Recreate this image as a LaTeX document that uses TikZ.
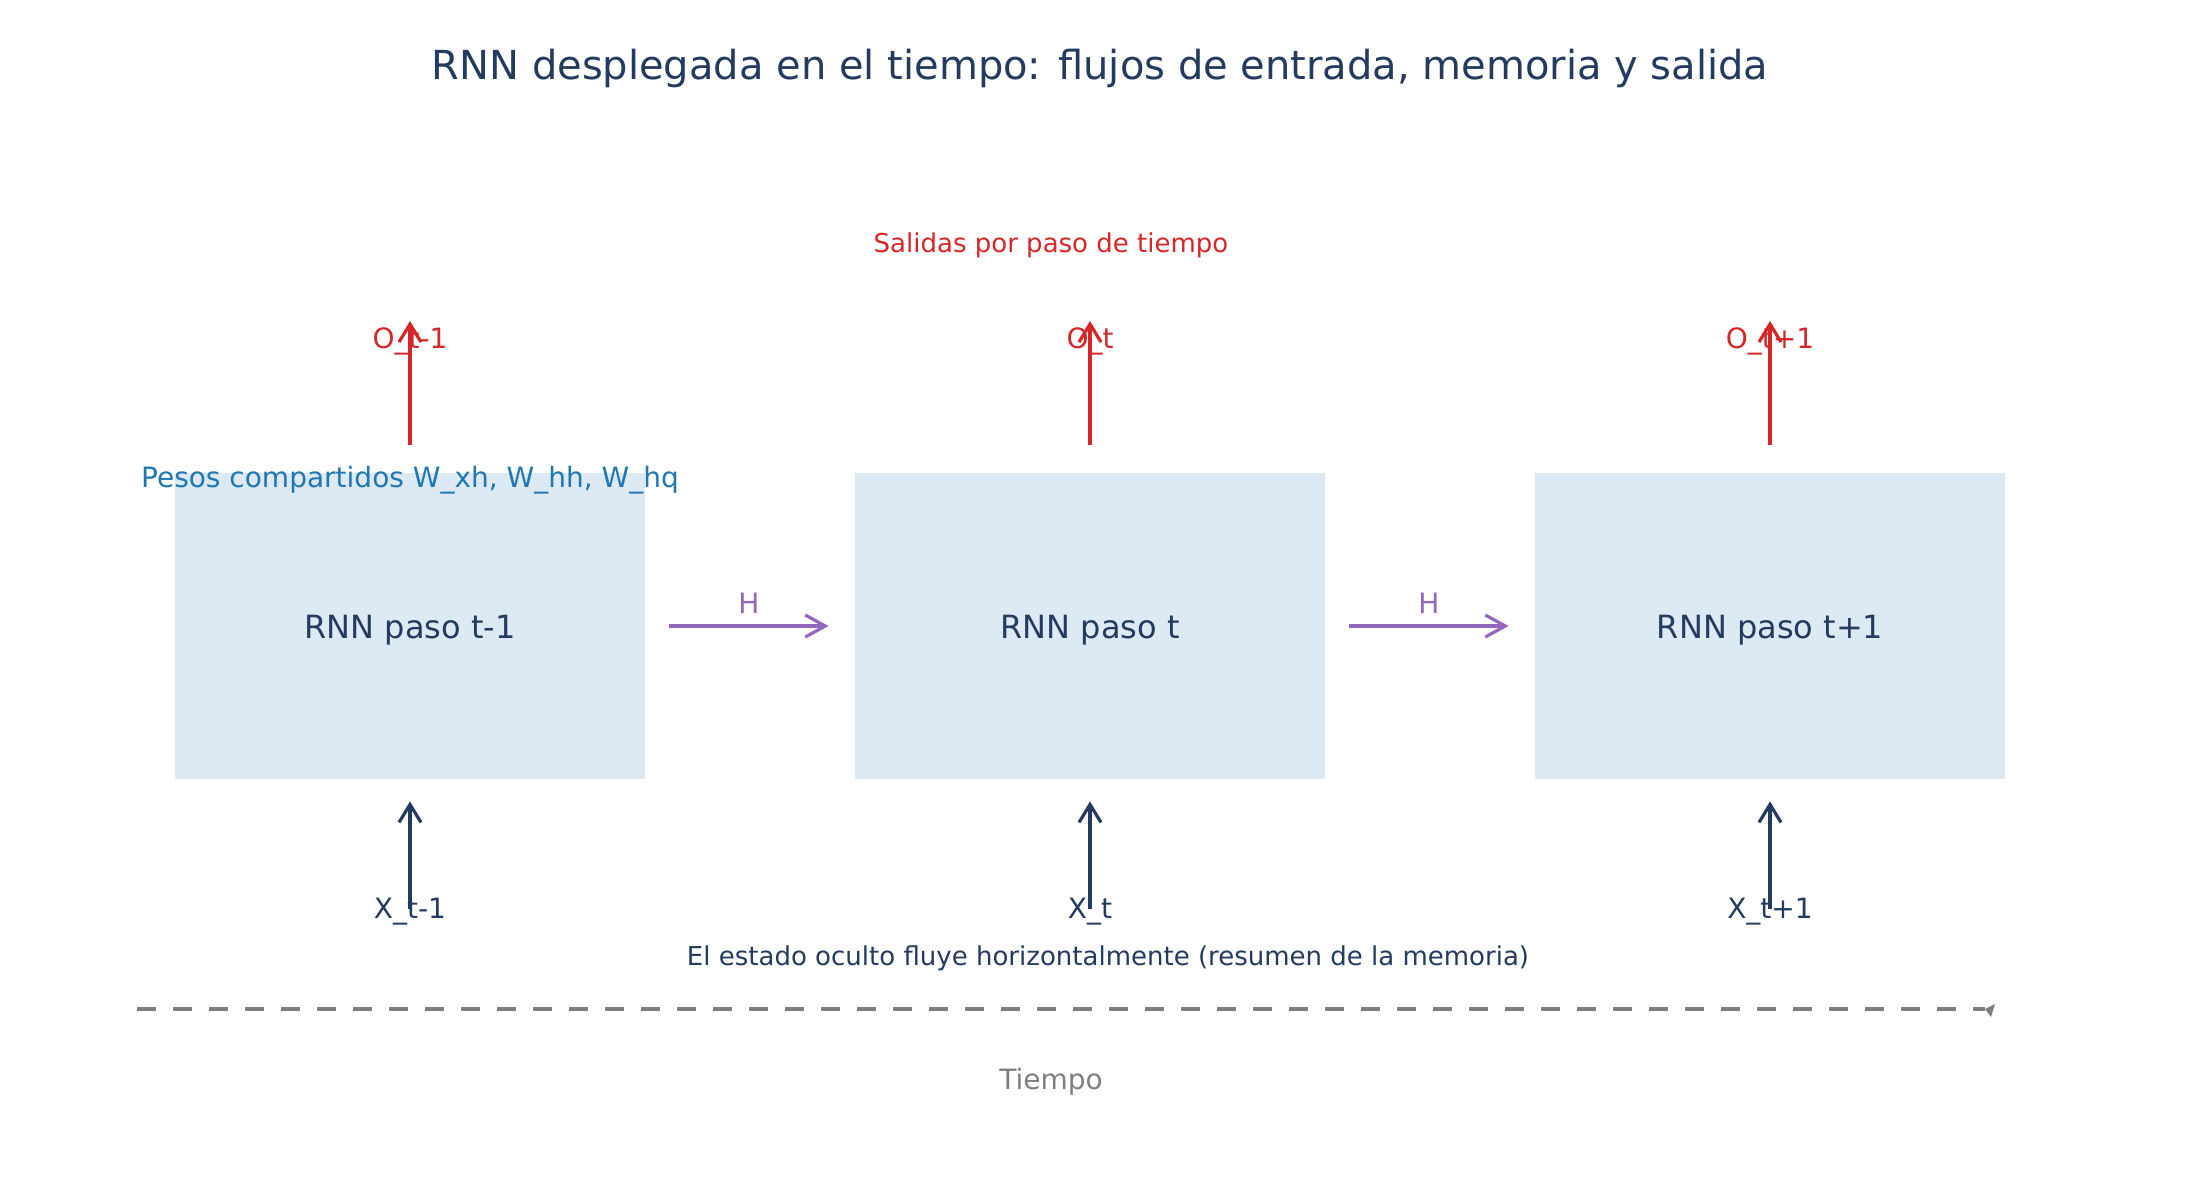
\documentclass[tikz,border=0pt]{standalone}
\usepackage{fontspec}
\setmainfont{DejaVu Sans}
\usetikzlibrary{arrows.meta}
\definecolor{navy}{HTML}{243A5E}
\definecolor{boxfill}{HTML}{DDEAF4}
\definecolor{outred}{HTML}{D62728}
\definecolor{hpurple}{HTML}{9467BD}
\definecolor{wblue}{HTML}{1F77B4}
\definecolor{tgray}{HTML}{7F7F7F}
\begin{document}
\begin{tikzpicture}[x=0.5pt,y=-0.5pt,
  stepbox/.style={fill=boxfill, minimum width=235pt, minimum height=153pt, inner sep=0pt,
    text height=16pt, text depth=3.8pt,
    font=\fontsize{16}{19}\selectfont, text=navy},
  lbl/.style={font=\fontsize{14}{17}\selectfont, inner sep=0pt},
  sml/.style={font=\fontsize{13}{16}\selectfont, inner sep=0pt},
  barb/.style={-{Straight Barb[length=9pt,width=11pt,line width=1.6pt]}},
  outarr/.style={barb, line width=1.8pt, draw=outred},
  inarr/.style={barb, line width=1.8pt, draw=navy},
  harr/.style={-{Straight Barb[length=10pt,width=11pt,line width=1.6pt]}, line width=1.8pt, draw=hpurple}
]
\useasboundingbox (0,0) rectangle (2200,1200);

\node[text=navy, font=\fontsize{20}{24}\selectfont] (title) at (1100,68)
  {RNN desplegada en el tiempo: flujos de entrada, memoria y salida};

% boxes
\node[stepbox] (b1) at (410,626) {RNN paso t-1};
\node[stepbox] (b2) at (1090,626) {RNN paso t};
\node[stepbox] (b3) at (1770,626) {RNN paso t+1};

% outputs
\node[sml, text=outred] (sal) at (1051,245) {Salidas por paso de tiempo};
\node[lbl, text=outred] (o1) at (410,341) {O\_t-1};
\node[lbl, text=outred] (o2) at (1090,341) {O\_t};
\node[lbl, text=outred] (o3) at (1770,341) {O\_t+1};
\coordinate (o1e) at (410,321);
\coordinate (o2e) at (1090,321);
\coordinate (o3e) at (1770,321);
\draw[outarr] ([yshift=14pt]b1.north) -- (o1e);
\draw[outarr] ([yshift=14pt]b2.north) -- (o2e);
\draw[outarr] ([yshift=14pt]b3.north) -- (o3e);

% shared weights
\node[lbl, text=wblue] (w) at (410,480) {Pesos compartidos W\_xh, W\_hh, W\_hq};

% inputs
\node[lbl, text=navy] (x1) at (410,912) {X\_t-1};
\node[lbl, text=navy] (x2) at (1090,912) {X\_t};
\node[lbl, text=navy] (x3) at (1770,912) {X\_t+1};
\draw[inarr] ([yshift=1.5pt]x1.center) -- ([yshift=-11pt]b1.south);
\draw[inarr] ([yshift=1.5pt]x2.center) -- ([yshift=-11pt]b2.south);
\draw[inarr] ([yshift=1.5pt]x3.center) -- ([yshift=-11pt]b3.south);

% hidden state arrows
\draw[harr] ([xshift=12pt]b1.east) -- node[lbl, text=hpurple, above=5.5pt] (h1) {H} ([xshift=-13pt]b2.west);
\draw[harr] ([xshift=12pt]b2.east) -- node[lbl, text=hpurple, above=5.5pt] (h2) {H} ([xshift=-13pt]b3.west);

% memory note
\node[sml, text=navy] (mem) at (1108,958) {El estado oculto fluye horizontalmente (resumen de la memoria)};

% time axis
\coordinate (t0) at (137,1009);
\coordinate (t1) at (1985,1009);
\draw[tgray, line width=1.8pt, dash pattern=on 9.5pt off 8.5pt] (t0) -- (t1);
\fill[tgray] (t1) -- (1995,1004) -- (1991,1017) -- cycle;
\node[lbl, text=tgray] (tiempo) at (1051,1082) {Tiempo};
\end{tikzpicture}
\end{document}
